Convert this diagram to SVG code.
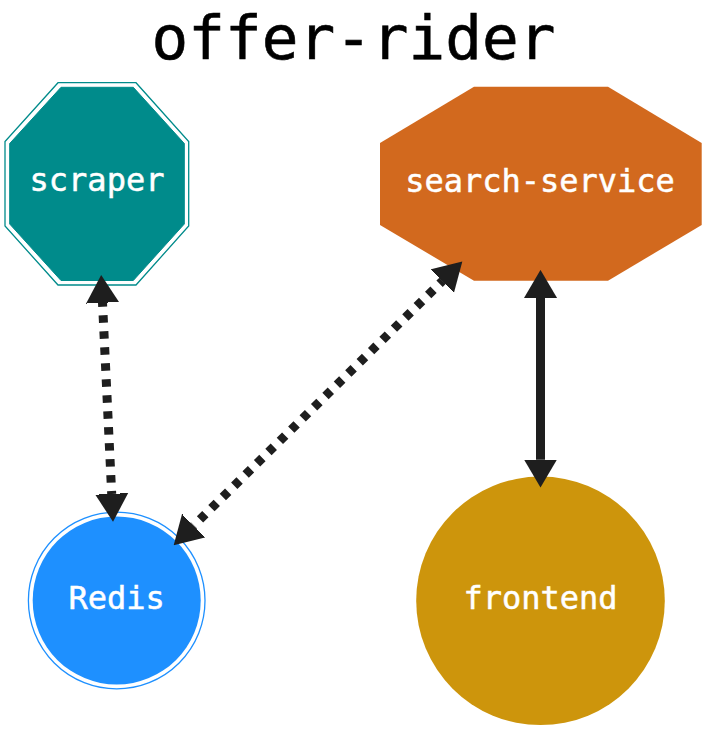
<svg xmlns="http://www.w3.org/2000/svg" width="707" height="730" viewBox="0 0 707 730">
<style>
.lbl{font-family:"DejaVu Sans Mono","Liberation Mono",monospace;font-size:32px;fill:#ffffff;stroke:#ffffff;stroke-width:0.5;text-anchor:middle}
.title{font-family:"DejaVu Sans Mono","Liberation Mono",monospace;font-size:61px;fill:#000000;stroke:#000000;stroke-width:0.6;text-anchor:middle}
.edge{fill:none;stroke:#1e1e1e;stroke-width:9;marker-start:url(#ah);marker-end:url(#ah)}
.dot{stroke-dasharray:7.5 8.5;stroke-dashoffset:3.4}
</style>
<defs>
<marker id="ah" markerUnits="userSpaceOnUse" markerWidth="28" markerHeight="34" viewBox="0 -16.5 27 33" refX="0" refY="0" orient="auto-start-reverse">
<path d="M-1,-16.5 L27,0 L-1,16.5 Z" fill="#1e1e1e"/>
</marker>
</defs>
<rect width="707" height="730" fill="#ffffff"/>
<text class="title" x="353.5" y="59">offer-rider</text>
<g id="scraper">
<polygon points="58,82.7 136,82.7 188.7,141.5 188.7,226 136,285 58,285 5,226 5,141.5" fill="#ffffff" stroke="#008b8b" stroke-width="1.3"/>
<polygon points="61,87.3 133.3,87.3 184.3,143.5 184.3,224 133.3,280.5 61,280.5 9.7,224 9.7,143.5" fill="#008b8b" stroke="#008b8b" stroke-width="1"/>
<text class="lbl" x="97" y="191">scraper</text>
</g>
<g id="search-service">
<polygon points="474,86.7 608,86.7 701.7,143 701.7,225 608,280.7 474,280.7 380,225 380,143" fill="#d2691e"/>
<text class="lbl" x="540" y="191.5">search-service</text>
</g>
<g id="redis">
<circle cx="116.7" cy="600.5" r="88.3" fill="none" stroke="#1e90ff" stroke-width="1.3"/>
<circle cx="116.7" cy="600.5" r="84" fill="#1e90ff"/>
<text class="lbl" x="116.7" y="609">Redis</text>
</g>
<g id="frontend">
<circle cx="540.5" cy="600.8" r="124.3" fill="#cd950c"/>
<text class="lbl" x="540.5" y="608.5">frontend</text>
</g>
<g id="edges">
<path class="edge dot" d="M102.5,302.7 L111.7,494"/>
<path class="edge dot" d="M442.5,280.9 L193.5,525.8"/>
<path class="edge" d="M540.5,297.7 L540.5,459.7"/>
</g>
</svg>
